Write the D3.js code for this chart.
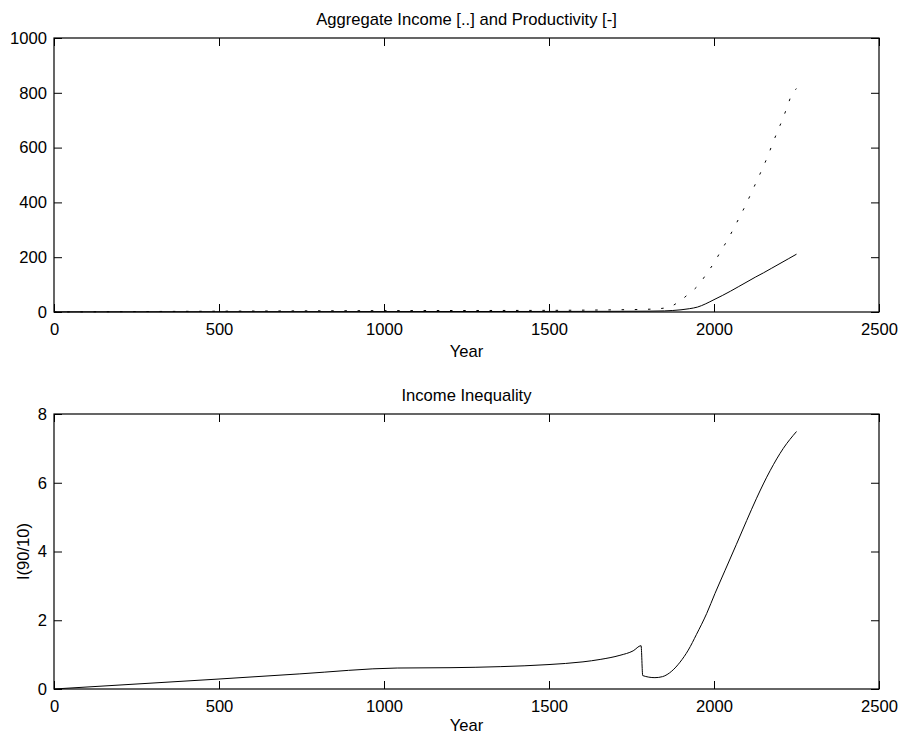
<!DOCTYPE html>
<html>
<head>
<meta charset="utf-8">
<script src="https://cdn.jsdelivr.net/npm/d3@7"></script>
<style>
  html, body { margin: 0; padding: 0; background: #fff; }
  text { font-family: "Liberation Sans", Arial, Helvetica, sans-serif; font-size: 16.6px; fill: #000; }
</style>
</head>
<body>
<svg id="chart" width="902" height="735"></svg>
<script>
// ---- Data ----
const xTicks = [0, 500, 1000, 1500, 2000, 2500];
const topYTicks = [0, 200, 400, 600, 800, 1000];
const botYTicks = [0, 2, 4, 6, 8];

const topTitle = "Aggregate Income [..] and Productivity [-]";
const botTitle = "Income Inequality";
const xLabel = "Year";
const botYLabel = "I(90/10)";

// Aggregate income (solid)
const incomeYears  = [0, 500, 1000, 1500, 1700, 1800, 1850, 1875, 1900, 1925, 1950, 1975, 2000, 2025, 2050, 2075, 2100, 2125, 2150, 2175, 2200, 2225, 2250];
const incomeValues = [0.5, 1, 1.5, 2, 2.5, 3, 4, 5.5, 8, 12, 18, 30, 45, 60, 76, 93, 110, 127, 143, 160, 177, 194, 211];

// Productivity (dotted)
const prodYears  = [0, 500, 1000, 1500, 1700, 1800, 1818, 1862, 1894, 1925, 1955, 1978, 2001, 2021, 2041, 2061, 2079, 2097, 2114, 2131, 2147, 2163, 2178, 2193, 2208, 2223, 2237, 2250];
const prodValues = [0, 3, 5, 6, 8, 10, 11, 17, 38, 68, 101, 141, 181, 223, 263, 308, 350, 393, 437, 482, 524, 569, 616, 661, 704, 753, 798, 815];

// Income inequality I(90/10)
const ineqYears  = [0, 500, 745, 1040, 1200, 1352, 1497, 1603, 1655, 1715, 1755, 1779, 1784, 1821, 1844, 1872, 1897, 1922, 1947, 1978, 2003, 2033, 2068, 2099, 2129, 2170, 2210, 2250];
const ineqValues = [0, 0.29, 0.44, 0.61, 0.62, 0.65, 0.71, 0.79, 0.86, 0.98, 1.11, 1.26, 0.39, 0.33, 0.36, 0.52, 0.78, 1.13, 1.59, 2.2, 2.78, 3.44, 4.21, 4.9, 5.55, 6.35, 7.0, 7.49];

// ---- Layout ----
const svg = d3.select("#chart");
const L = 54, R = 879;
const FS = 16.6;
const panels = [
  { top: 38, bottom: 312, yDomain: [0, 1000], yTicks: topYTicks, title: topTitle, ylabel: null, xlabBase: 357,
    series: [
      { x: incomeYears, y: incomeValues, dash: null },
      { x: prodYears, y: prodValues, dash: "2.5,10.7" }
    ] },
  { top: 414, bottom: 689, yDomain: [0, 8], yTicks: botYTicks, title: botTitle, ylabel: botYLabel, xlabBase: 731,
    series: [
      { x: ineqYears, y: ineqValues, dash: null }
    ] }
];

const tickLen = 8;
const fmt = d3.format("d");

panels.forEach(p => {
  const x = d3.scaleLinear().domain([0, 2500]).range([L, R]);
  const y = d3.scaleLinear().domain(p.yDomain).range([p.bottom, p.top]);
  const g = svg.append("g");

  const xb = g.append("g").attr("transform", `translate(0,${p.bottom})`)
    .call(d3.axisBottom(x).tickValues(xTicks).tickFormat(fmt).tickSizeInner(-tickLen).tickSizeOuter(0).tickPadding(11.5));
  const xt = g.append("g").attr("transform", `translate(0,${p.top})`)
    .call(d3.axisTop(x).tickValues(xTicks).tickSizeInner(-tickLen).tickSizeOuter(0).tickFormat(""));
  const yl = g.append("g").attr("transform", `translate(${L},0)`)
    .call(d3.axisLeft(y).tickValues(p.yTicks).tickFormat(fmt).tickSizeInner(-tickLen).tickSizeOuter(0).tickPadding(7));
  const yr = g.append("g").attr("transform", `translate(${R},0)`)
    .call(d3.axisRight(y).tickValues(p.yTicks).tickSizeInner(-tickLen).tickSizeOuter(0).tickFormat(""));

  [xb, xt, yl, yr].forEach(a => {
    a.select(".domain").remove();
    a.selectAll(".tick line").attr("stroke", "#000").attr("stroke-width", 1);
    a.selectAll(".tick text").attr("font-size", FS).attr("font-family", '"Liberation Sans", Arial, sans-serif').attr("fill", "#000");
  });

  g.append("rect").attr("x", L).attr("y", p.top).attr("width", R - L).attr("height", p.bottom - p.top)
    .attr("fill", "none").attr("stroke", "#000").attr("stroke-width", 1.2);

  p.series.forEach(s => {
    const pts = s.x.map((v, i) => [v, s.y[i]]);
    const line = d3.line().x(d => x(d[0])).y(d => y(d[1])).curve(d3.curveMonotoneX);
    g.append("path").attr("d", line(pts)).attr("fill", "none").attr("stroke", "#000")
      .attr("stroke-width", 1).attr("stroke-dasharray", s.dash);
  });

  g.append("text").attr("x", (L + R) / 2).attr("y", p.top - 13).attr("text-anchor", "middle").text(p.title);
  g.append("text").attr("x", (L + R) / 2).attr("y", p.xlabBase).attr("text-anchor", "middle").text(xLabel);
  if (p.ylabel) {
    g.append("text").attr("transform", `translate(29,${(p.top + p.bottom) / 2}) rotate(-90)`)
      .attr("text-anchor", "middle").text(p.ylabel);
  }
});
</script>
</body>
</html>
